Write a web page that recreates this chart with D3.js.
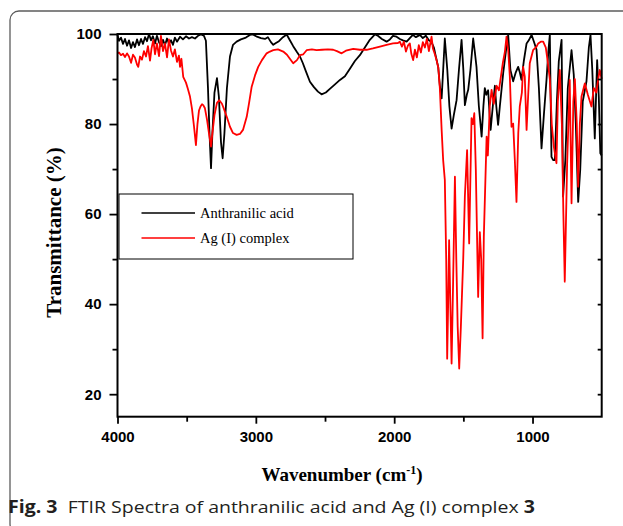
<!DOCTYPE html>
<html>
<head>
<meta charset="utf-8">
<script src="https://cdn.jsdelivr.net/npm/d3@7/dist/d3.min.js"></script>
<style>
  html, body { margin: 0; padding: 0; background: #fff; }
  svg { display: block; }
</style>
</head>
<body>
<svg id="chart" width="623" height="526"></svg>
<script>
// FTIR spectra: wavenumber (cm-1) and transmittance (%)
const acidWave = [4000,3989,3975,3960,3946,3931,3917,3902,3888,3874,3859,3845,3830,3816,3801,3787,3772,3758,3744,3729,3715,3700,3686,3671,3657,3642,3628,3613,3599,3585,3570,3548,3527,3505,3483,3462,3440,3418,3397,3375,3361,3346,3335,3324,3314,3299,3281,3267,3252,3240,3227,3209,3187,3165,3139,3108,3072,3043,3021,2992,2963,2934,2913,2891,2874,2855,2833,2804,2777,2754,2730,2703,2681,2660,2638,2609,2580,2551,2525,2494,2465,2428,2392,2356,2320,2284,2248,2212,2176,2139,2118,2089,2055,2031,2009,1983,1959,1937,1910,1887,1865,1843,1814,1793,1771,1749,1730,1713,1699,1682,1670,1657,1646,1634,1616,1601,1585,1569,1549,1532,1513,1500,1489,1475,1465,1449,1429,1417,1405,1388,1368,1355,1345,1334,1321,1303,1287,1272,1262,1249,1236,1212,1193,1176,1160,1140,1121,1104,1092,1080,1063,1043,1027,1007,991,971,954,935,918,899,886,875,863,851,839,824,810,790,779,763,745,718,702,687,670,655,637,610,593,581,568,550,533,521,510,500];
const acidT = [99.8,98.5,99.2,97.8,98.9,97.4,98.6,96.9,98.2,97.1,98.8,97.5,98.9,97.8,99.3,98.4,100,98.6,99.5,97.9,99.6,98.2,97.3,98.7,97.5,99.0,97.9,98.6,97.6,99.2,98.3,99.4,98.8,99.5,99.0,99.3,99.0,99.6,99.9,99.6,98.5,88,78,70.2,78,87,90.2,86,76,72.4,78,88,95,97.6,98.3,98.8,99.2,99.8,99.9,99.4,99.1,98.9,99.3,98.2,97.6,98.0,98.4,99.3,99.9,98.6,97.3,96.0,95.0,93.5,91.7,89.4,88.2,87.2,86.6,87.0,87.8,88.8,89.8,90.6,92.3,94.0,95.3,97.0,98.7,99.9,99.6,98.9,98.3,98.8,99.6,99.4,98.9,98.6,98.3,99.1,99.8,99.3,99.8,99.1,99.6,98.6,98.2,97.0,95.0,92.7,88.5,85.7,92,99,92,84,79,82,85.3,92,98.7,92,84.2,86.5,87.6,92,99,96,92.7,84,77.2,84,88,86.5,87.5,78.7,84,88.5,84,79.8,84,91.3,96,99.8,92,89.5,91.5,92.7,91.5,89.8,94,97.9,98.6,99.8,98.4,96.5,88,74.6,82,89.8,96,99.8,72.7,72.0,72.0,85,94,98.7,63.9,72,88,96.4,91,80,62.7,70,85,89.5,97,99.8,92,76.8,94.2,86,73.5,73.0];

const complexWave = [4000,3989,3975,3960,3946,3931,3917,3902,3888,3874,3859,3850,3837,3823,3809,3794,3780,3765,3754,3741,3729,3715,3700,3686,3671,3657,3642,3628,3613,3599,3585,3570,3556,3548,3538,3525,3505,3491,3476,3462,3447,3433,3422,3411,3400,3389,3380,3368,3353,3339,3324,3314,3299,3281,3264,3245,3230,3209,3187,3165,3139,3115,3093,3066,3050,3030,3006,2983,2956,2922,2898,2874,2840,2802,2775,2754,2730,2703,2681,2657,2633,2595,2561,2522,2479,2441,2414,2380,2349,2296,2248,2199,2154,2103,2055,2009,1973,1959,1944,1930,1915,1901,1887,1876,1863,1850,1836,1822,1807,1793,1778,1764,1749,1730,1720,1706,1694,1681,1670,1657,1646,1634,1624,1617,1610,1603,1594,1585,1574,1561,1551,1541,1530,1518,1501,1489,1473,1458,1441,1431,1421,1410,1393,1381,1371,1361,1352,1332,1323,1309,1296,1280,1260,1243,1229,1215,1200,1188,1176,1164,1152,1140,1128,1116,1103,1092,1077,1068,1056,1043,1032,1020,996,971,959,940,923,904,889,875,861,846,827,817,803,788,777,767,750,731,718,705,694,680,670,658,646,622,600,574,557,539,525,514,500];
const complexT = [95.7,95.9,95.3,95.6,94.9,95.7,95.0,93.6,95.4,94.8,93.2,92.7,95.0,94.3,96.2,95.0,97.3,94.1,96.8,98.7,95.5,97.9,95.1,99.6,96.2,97.9,94.8,98.8,96.3,95.0,96.6,93.8,95.2,92.7,94.5,90.5,89.2,87.8,86.1,83.5,79.5,75.3,80,83,83.9,84.4,84.2,83.5,81,78,75.0,78,82,84.7,85.3,84.5,83.3,81.5,79.4,78.0,77.6,77.8,78.7,81.6,84.5,88.3,90.8,92.7,94.2,95.7,96.1,96.4,96.6,96.1,95.4,94.5,93.5,94.2,95.3,95.5,96.4,96.6,96.4,96.5,96.6,96.5,96.2,95.7,96.3,96.7,96.5,96.5,96.8,97.2,97.6,97.9,98.0,98.3,97.2,98.3,96.1,97.4,97.9,95.6,94.2,96.5,94.8,97.5,95.9,98.2,97.0,98.9,96.2,99.4,96.8,95.5,94.2,92.5,88,78.7,72,67.6,50,27.9,40,54.2,40,26.8,45,68.3,50,35,25.7,35,50,64,74.2,53.5,81.3,80,82.4,70,41.6,56,50,32.4,55,77.2,73,84,87.6,84.5,88.5,87.5,90.5,93.5,96,99.4,96.5,90.5,79.4,80.1,72,62.7,78,84,87,92.7,90.5,78.7,86,93.5,96.4,97.2,97.9,98.3,98.3,97.0,93.6,90,80,75,71.3,85,92,80,60,45,71,89.8,62.4,85,90,80,66.1,80,86.1,89,86.5,83.9,88,87,90,92,90];

const xMajor = [4000, 3000, 2000, 1000];
const xMinor = [3500, 2500, 1500];
const yMajor = [20, 40, 60, 80, 100];
const yMinor = [30, 50, 70, 90];
const yRight = [20, 30, 40, 50, 60, 70, 80, 90];

const seriesNames = ["Anthranilic acid", "Ag (I) complex"];
const seriesColors = ["#000000", "#ff0000"];

const svg = d3.select("#chart");

// outer panel border
svg.append("rect")
  .attr("x", 10).attr("y", 11)
  .attr("width", 660).attr("height", 522)
  .attr("rx", 9).attr("ry", 9)
  .attr("fill", "none")
  .attr("stroke", "#5c5c5c")
  .attr("stroke-width", 1.3);

const plotL = 117.5, plotR = 601.7, plotT = 34, plotB = 416.7;

const x = d3.scaleLinear().domain([4000, 500]).range([plotL, plotR]);
const y = d3.scaleLinear().domain([15, 100]).range([plotB, plotT]);

// spectra
const line = d3.line()
  .x(d => x(d[0]))
  .y(d => y(d[1]));

const acid = acidWave.map((w, i) => [w, acidT[i]]);
const complex = complexWave.map((w, i) => [w, complexT[i]]);

const plot = svg.append("g");
[acid, complex].forEach((data, i) => {
  plot.append("path")
    .datum(data)
    .attr("d", line)
    .attr("fill", "none")
    .attr("stroke", seriesColors[i])
    .attr("stroke-width", 1.8)
    .attr("stroke-linejoin", "round");
});

// axes
const tickFont = "'Liberation Sans', Arial, sans-serif";

const xAxis = d3.axisBottom(x).tickValues(xMajor).tickSize(7).tickPadding(8)
  .tickFormat(d3.format("d"));
const gx = svg.append("g").attr("transform", `translate(0,${plotB})`).call(xAxis);
gx.select(".domain").remove();
gx.selectAll(".tick line").attr("stroke-width", 1.8);
gx.selectAll(".tick text")
  .attr("font-family", tickFont).attr("font-weight", "bold")
  .attr("font-size", 15).attr("fill", "#000");

const gxm = svg.append("g").attr("transform", `translate(0,${plotB})`)
  .call(d3.axisBottom(x).tickValues(xMinor).tickSize(5).tickFormat(""));
gxm.select(".domain").remove();
gxm.selectAll(".tick line").attr("stroke-width", 1.8);

const yAxis = d3.axisLeft(y).tickValues(yMajor).tickSize(8).tickPadding(8);
const gy = svg.append("g").attr("transform", `translate(${plotL},0)`).call(yAxis);
gy.select(".domain").remove();
gy.selectAll(".tick line").attr("stroke-width", 1.8);
gy.selectAll(".tick text")
  .attr("font-family", tickFont).attr("font-weight", "bold")
  .attr("font-size", 15).attr("fill", "#000");

const gym = svg.append("g").attr("transform", `translate(${plotL},0)`)
  .call(d3.axisLeft(y).tickValues(yMinor).tickSize(5).tickFormat(""));
gym.select(".domain").remove();
gym.selectAll(".tick line").attr("stroke-width", 1.8);

const gyr = svg.append("g").attr("transform", `translate(${plotR},0)`)
  .call(d3.axisLeft(y).tickValues(yRight).tickSize(4).tickFormat(""));
gyr.select(".domain").remove();
gyr.selectAll(".tick line").attr("stroke-width", 1.8);

// plot frame
svg.append("rect")
  .attr("x", plotL).attr("y", plotT)
  .attr("width", plotR - plotL).attr("height", plotB - plotT)
  .attr("fill", "none").attr("stroke", "#000").attr("stroke-width", 2);

// axis titles
const titleFont = "'Liberation Serif', 'Times New Roman', serif";
const xt = svg.append("text")
  .attr("x", 342).attr("y", 481)
  .attr("text-anchor", "middle")
  .attr("font-family", titleFont).attr("font-weight", "bold")
  .attr("font-size", 19).attr("fill", "#000");
xt.append("tspan").text("Wavenumber (cm");
xt.append("tspan").attr("font-size", 12).attr("dy", -7).text("-1");
xt.append("tspan").attr("dy", 7).text(")");

svg.append("text")
  .attr("transform", "translate(61,232.5) rotate(-90)")
  .attr("text-anchor", "middle")
  .attr("font-family", titleFont).attr("font-weight", "bold")
  .attr("font-size", 21).attr("fill", "#000")
  .text("Transmittance (%)");

// legend
const lg = svg.append("g");
lg.append("rect")
  .attr("x", 119).attr("y", 194)
  .attr("width", 234).attr("height", 65)
  .attr("fill", "#fff").attr("stroke", "#000").attr("stroke-width", 1);
seriesNames.forEach((name, i) => {
  const ly = 213 + i * 25;
  lg.append("line")
    .attr("x1", 141.5).attr("x2", 195)
    .attr("y1", ly).attr("y2", ly)
    .attr("stroke", seriesColors[i]).attr("stroke-width", 1.3);
  lg.append("text")
    .attr("x", 200).attr("y", ly + 5)
    .attr("font-family", titleFont).attr("font-size", 14.5)
    .attr("fill", "#000")
    .text(name);
});

// caption
const cap = svg.append("text")
  .attr("x", 8).attr("y", 513)
  .attr("font-family", "'Open Sans', 'Noto Sans', sans-serif")
  .attr("font-size", 17).attr("fill", "#231f20");
cap.append("tspan").attr("font-weight", "bold").text("Fig. 3");
cap.append("tspan").attr("dx", 9).text("FTIR Spectra of anthranilic acid and Ag (I) complex ");
cap.append("tspan").attr("font-weight", "bold").text("3");
const capLen = cap.node().getComputedTextLength();
const capTarget = 517;
cap.attr("transform", `translate(8,0) scale(${capTarget / capLen},1) translate(-8,0)`);
</script>
</body>
</html>
